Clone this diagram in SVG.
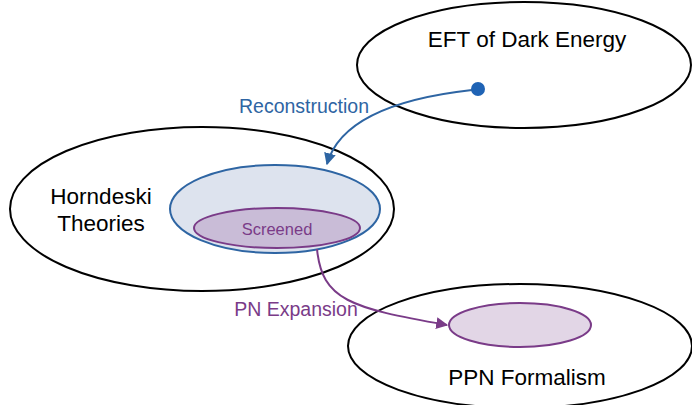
<svg xmlns="http://www.w3.org/2000/svg" width="692" height="405" viewBox="0 0 692 405">
<style>
.big{fill:#fff;stroke:#000;stroke-width:2}
.lbl{font-family:"Liberation Sans",Arial,sans-serif;font-size:22.5px;fill:#000;text-anchor:middle}
.blue{fill:#dde3ee;stroke:#2e65a3;stroke-width:2}
.pur{fill:#c9bcd7;stroke:#7a3b88;stroke-width:2}
.pur2{fill:#e2d6e6;stroke:#7a3b88;stroke-width:2}
.cl{font-family:"Liberation Sans",Arial,sans-serif;font-size:19.5px;text-anchor:middle}
</style>
<defs>
<marker id="ab" viewBox="0 0 10 10" refX="9" refY="5" markerWidth="6" markerHeight="6" orient="auto"><path d="M0,0 L10,5 L0,10 z" fill="#2e65a3"/></marker>
<marker id="ap" viewBox="0 0 10 10" refX="9" refY="5" markerWidth="6" markerHeight="6" orient="auto"><path d="M0,0 L10,5 L0,10 z" fill="#7a3b88"/></marker>
</defs>
<g id="eft"><ellipse class="big" cx="524" cy="65" rx="167" ry="63"/><text class="lbl" x="527" y="47">EFT of Dark Energy</text></g>
<g id="horndeski"><ellipse class="big" cx="202" cy="209" rx="192" ry="82"/><text class="lbl" x="101" y="204">Horndeski</text><text class="lbl" x="101" y="231">Theories</text></g>
<g id="ppn"><ellipse class="big" cx="520" cy="346" rx="172" ry="62"/><text class="lbl" x="527" y="385">PPN Formalism</text></g>
<g id="horndeski-sub"><ellipse class="blue" cx="275" cy="209" rx="105" ry="44"/></g>
<g id="screened"><ellipse class="pur" cx="277" cy="228" rx="83" ry="20"/><text class="cl" x="277" y="235" fill="#7a3b88" style="font-size:16.5px">Screened</text></g>
<g id="ppn-sub"><ellipse class="pur2" cx="520" cy="325" rx="71" ry="22"/></g>
<g id="eft-point"><circle cx="478" cy="89" r="7" fill="#1f63b5"/></g>
<g id="connectors">
<path d="M472 90 C400 98 340 118 327 164" fill="none" stroke="#2e65a3" stroke-width="2" marker-end="url(#ab)"/>
<path d="M317 249 C322 300 350 308 447 325" fill="none" stroke="#7a3b88" stroke-width="2" marker-end="url(#ap)"/>
<text class="cl" x="304" y="113" fill="#2e65a3">Reconstruction</text>
<text class="cl" x="296" y="316" fill="#7a3b88">PN Expansion</text>
</g>
</svg>
